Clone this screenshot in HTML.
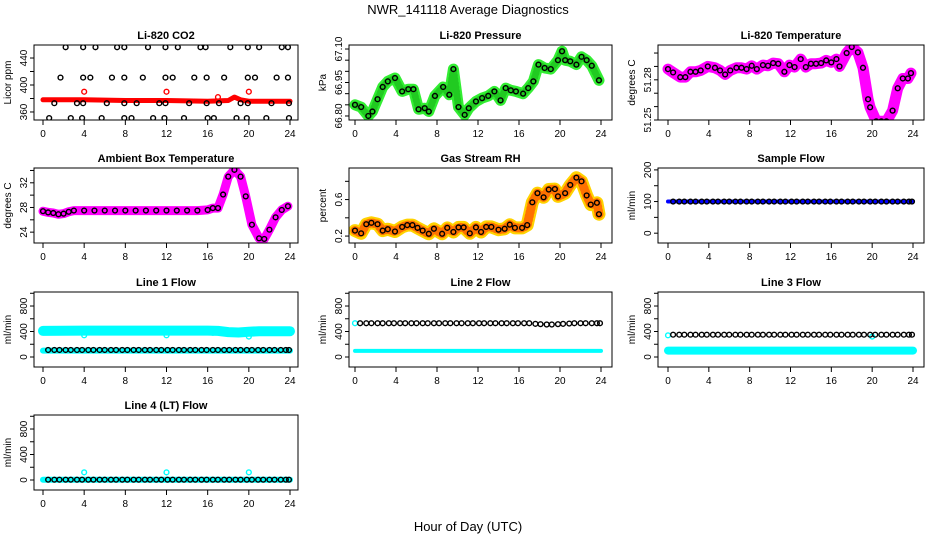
<!DOCTYPE html>
<html><head><meta charset="utf-8"><style>
html,body{margin:0;padding:0;background:#fff;}
svg{display:block;font-family:"Liberation Sans",Arial,sans-serif;}
</style></head><body>
<svg id="chart" width="936" height="540" viewBox="0 0 936 540" xmlns="http://www.w3.org/2000/svg">
<text x="468" y="14" font-size="13" text-anchor="middle">NWR_141118  Average Diagnostics</text>
<text x="468" y="531" font-size="13" text-anchor="middle">Hour of Day (UTC)</text>
</svg>
<script>
// ---- data ----
const xTicks = [0,4,8,12,16,20,24];
// CO2
const co2HiH = [2.2,3.9,5.1,7.2,7.9,10.2,11.9,13.1,15.3,15.8,18.2,19.9,21.0,23.2,23.8];
const co2HiV = [456,456,456,456,456,456,456,456,456,456,456,456,456,456,456];
const co2MidH = [1.7,3.9,4.6,6.7,7.9,9.7,11.9,12.6,14.7,15.9,17.6,19.9,20.6,22.7,23.8];
const co2MidV = [411,411,411,411,411,411,411,411,411,411,411,411,411,411,411];
const co2LowH = [1.1,3.3,3.9,6.2,7.9,9.1,11.3,11.9,14.2,15.9,17.1,19.2,19.9,22.2,23.9];
const co2LowV = [373,373,373,373,373,373,373,373,373,373,373,373,373,373,373];
const co2BotH = [0.6,2.7,3.8,5.7,7.9,8.6,10.7,11.8,13.7,16.0,16.6,18.8,19.8,21.7,23.9];
const co2BotV = [351,351,351,351,351,351,351,351,351,351,351,351,351,351,351];
const co2BandH = [0,4,8,12,16,18,18.6,19.2,20,24];
const co2BandV = [378,378,377,377,376,377,382,378,376,376];
const co2OutH = [4,12,17,20];
const co2OutV = [390,390,382,390];
// Pressure
const presH = [0,0.6,1.3,1.7,2.2,2.7,3.2,3.9,4.6,5.2,5.7,6.2,6.8,7.2,7.8,8.6,9.2,9.6,10.1,10.7,11.1,11.8,12.4,13.0,13.6,14.2,14.7,15.2,15.7,16.4,16.9,17.4,17.9,18.5,19.1,19.8,20.2,20.5,21.0,21.6,22.1,22.6,23.1,23.8];
const presV = [66.85,66.84,66.80,66.82,66.875,66.93,66.955,66.97,66.91,66.92,66.92,66.83,66.835,66.82,66.89,66.93,66.895,67.01,66.84,66.805,66.835,66.865,66.88,66.89,66.91,66.87,66.925,66.915,66.91,66.90,66.925,66.955,67.03,67.015,67.01,67.05,67.09,67.05,67.045,67.03,67.065,67.05,67.025,66.96];
// Li-820 temperature
const ltH = [0,0.5,1.2,1.7,2.2,2.7,3.2,3.9,4.6,5.1,5.6,6.1,6.7,7.2,7.7,8.2,8.7,9.3,9.8,10.3,10.8,11.4,11.9,12.4,13.0,13.5,14.0,14.5,15.0,15.5,16.0,16.5,16.8,17.5,18.0,18.6,19.1,19.6,19.8,20.4,20.9,21.4,22.0,22.5,23.0,23.5,23.8];
const ltV = [51.288,51.2855,51.282,51.282,51.286,51.286,51.287,51.29,51.289,51.287,51.284,51.287,51.289,51.289,51.288,51.2905,51.288,51.291,51.2905,51.2925,51.292,51.286,51.291,51.2895,51.2955,51.2895,51.292,51.292,51.2925,51.2945,51.293,51.2955,51.29,51.30,51.3045,51.3005,51.289,51.2655,51.2595,51.249,51.249,51.249,51.257,51.2737,51.281,51.281,51.285];
// Ambient box temperature
const abH = [0,0.5,1.0,1.5,2.0,2.5,3.0,4,5,6,7,8,9,10,11,12,13,14,15,16,16.5,17,17.5,18.0,18.6,19.2,19.7,20.3,21.0,21.5,22.0,22.6,23.2,23.8];
const abV = [27.4,27.2,27.1,26.9,27.0,27.3,27.5,27.5,27.5,27.5,27.5,27.5,27.5,27.5,27.5,27.5,27.5,27.5,27.5,27.6,27.9,27.9,30.1,33.0,34.1,33.0,29.8,25.2,23.0,22.9,24.4,26.4,27.6,28.2];
// Gas stream RH
const rhH = [0,0.6,1.1,1.6,2.2,2.7,3.2,3.9,4.6,5.1,5.6,6.1,6.6,7.2,7.7,8.5,9.0,9.6,10.1,10.6,11.2,11.8,12.3,12.8,13.3,14.0,14.6,15.1,15.6,16.3,16.8,17.3,17.8,18.4,18.9,19.5,19.8,20.5,21.0,21.6,22.1,22.6,23.0,23.6,23.8];
const rhV = [0.26,0.23,0.33,0.345,0.33,0.26,0.275,0.25,0.30,0.32,0.32,0.29,0.26,0.225,0.28,0.225,0.29,0.245,0.295,0.295,0.23,0.295,0.245,0.30,0.30,0.27,0.28,0.325,0.29,0.29,0.32,0.57,0.67,0.625,0.71,0.715,0.635,0.67,0.76,0.84,0.80,0.645,0.545,0.565,0.44];
// Flow black-circle hours
const flowH = [0.5,1.1,1.6,2.2,2.7,3.3,3.8,4.4,4.9,5.5,6.0,6.6,7.1,7.7,8.2,8.8,9.3,9.9,10.4,11.0,11.5,12.1,12.6,13.2,13.7,14.3,14.8,15.4,15.9,16.5,17.0,17.6,18.1,18.7,19.2,19.8,20.3,20.9,21.4,22.0,22.5,23.1,23.6,23.9];
const sampleV = [100,100,100,100,100,100,100,100,100,100,100,100,100,100,100,100,100,100,100,100,100,100,100,100,100,100,100,100,100,100,100,100,100,100,100,100,100,100,100,100,100,100,100,100];
const line1V = [110,110,110,110,110,110,110,110,110,110,110,110,110,110,110,110,110,110,110,110,110,110,110,110,110,110,110,110,110,110,110,110,110,110,110,110,110,110,110,110,110,110,110,110];
const line2V = [530,530,530,530,530,530,530,530,530,530,530,530,530,530,530,530,530,530,530,530,530,530,530,530,530,530,530,530,530,530,530,520,515,510,510,515,520,525,530,530,530,530,530,530];
const line3V = [350,350,350,350,350,350,350,350,350,350,350,350,350,350,350,350,350,350,350,350,350,350,350,350,350,350,350,350,350,350,350,350,350,350,350,350,350,350,350,350,350,350,350,350];
const line4V = [5,5,5,5,5,5,5,5,5,5,5,5,5,5,5,5,5,5,5,5,5,5,5,5,5,5,5,5,5,5,5,5,5,5,5,5,5,5,5,5,5,5,5,5];
const bandH = [0,4,8,12,16,17,18,19,20,21,24];
const sampleBandV = [100,100,100,100,100,100,100,100,100,100,100];
const line1HiBandV = [410,415,415,415,415,410,390,385,395,405,405];
const line1LoBandV = [100,100,100,100,100,100,100,100,100,100,100];
const line2BandV = [95,95,95,95,95,95,95,95,95,95,95];
const line3BandV = [100,100,100,100,100,100,100,100,100,100,100];
const line4BandV = [5,5,5,5,5,5,5,5,5,5,5];
const line1OutH = [0,4,8.2,12,16.5,20];
const line1OutV = [390,340,390,340,380,320];
const line2OutH = [0];
const line2OutV = [530];
const line3OutH = [0,20];
const line3OutV = [340,320];
const line4OutH = [4,12,20];
const line4OutV = [120,120,120];

// ---- layout ----
const NS = "http://www.w3.org/2000/svg";
const svg = document.getElementById('chart');
const cols = [{L:34,R:298,h0:43,h24:290},{L:349,R:612,h0:355,h24:601},{L:658,R:924,h0:668,h24:913}];
const rows = [45,168,292,415];
const PH = 75;
function el(tag, a){const e=document.createElementNS(NS,tag);for(const k in a)e.setAttribute(k,a[k]);return e;}

function panel(name, c, r, title, ylab, ymin, ymax, yticks, ylabels){
  const col=cols[c], top=rows[r], bot=top+PH;
  const g=el('g',{});
  
  
  svg.appendChild(g);
  const sx=h=>col.h0+(h/24)*(col.h24-col.h0);
  const sy=v=>bot-(v-ymin)/(ymax-ymin)*PH;
  const clipId='clip-'+name;
  const cp=el('clipPath',{id:clipId});cp.appendChild(el('rect',{x:col.L,y:top,width:col.R-col.L,height:PH}));g.appendChild(cp);
  const plot=el('g',{'clip-path':'url(#'+clipId+')'});
  
  
  g.appendChild(plot);
  const box=el('rect',{x:col.L,y:top,width:col.R-col.L,height:PH,fill:'none',stroke:'#000','stroke-width':1});
  
  
  g.appendChild(box);
  const t=el('text',{x:(col.L+col.R)/2,y:top-6,'font-size':11,'font-weight':'bold','text-anchor':'middle'});t.textContent=title;
  
  
  g.appendChild(t);
  xTicks.forEach(h=>{
    const tk=el('line',{x1:sx(h),x2:sx(h),y1:bot,y2:bot+5,stroke:'#000'});
    
    
    g.appendChild(tk);
    const tl=el('text',{x:sx(h),y:bot+17,'font-size':10,'text-anchor':'middle'});tl.textContent=h;
    
    
    g.appendChild(tl);
  });
  yticks.forEach(v=>{
    const tk=el('line',{x1:col.L-4,x2:col.L,y1:sy(v),y2:sy(v),stroke:'#000'});
    
    
    g.appendChild(tk);
  });
  ylabels.forEach(v=>{
    const x=col.L-7,y=sy(v);
    const tl=el('text',{x:x,y:y,'font-size':10,'text-anchor':'middle',transform:'rotate(-90 '+x+' '+y+')'});tl.textContent=v;
    
    
    g.appendChild(tl);
  });
  const yx=col.L-23,yy=(top+bot)/2;
  const yt=el('text',{x:yx,y:yy,'font-size':10,'text-anchor':'middle',transform:'rotate(-90 '+yx+' '+yy+')'});yt.textContent=ylab;
  
  
  g.appendChild(yt);
  return {plot,sx,sy,name};
}
function band(p, H, V, color, w, dash, op){
  const d=H.map((h,i)=>(i?'L':'M')+p.sx(h).toFixed(1)+','+p.sy(V[i]).toFixed(1)).join(' ');
  const a={d:d,fill:'none',stroke:color,'stroke-width':w,'stroke-linejoin':'round','stroke-linecap':'round'};
  const e=el('path',a);
  
  
  p.plot.appendChild(e);
  if(dash){
    const e2=el('path',{d:d,fill:'none',stroke:dash,'stroke-width':w-4,'stroke-dasharray':'1 3','stroke-linejoin':'round','stroke-linecap':'round',opacity:op||0.4});
    
    
    p.plot.appendChild(e2);
  }
}
function pts(p, H, V, color, r, sw){
  H.forEach((h,i)=>{
    const c=el('circle',{cx:p.sx(h),cy:p.sy(V[i]),r:r||2.4,fill:'none',stroke:color,'stroke-width':sw||1.4});
    
    
    p.plot.appendChild(c);
  });
}

// CO2
let p=panel('co2',0,0,'Li-820 CO2','Licor ppm',348.1,459.3,[360,380,400,420,440],[360,400,440]);
band(p,co2BandH,co2BandV,'#ff0000',5);
pts(p,co2OutH,co2OutV,'#ff0000');
pts(p,co2HiH,co2HiV,'#000');pts(p,co2MidH,co2MidV,'#000');pts(p,co2LowH,co2LowV,'#000');pts(p,co2BotH,co2BotV,'#000');
// Pressure
p=panel('pressure',1,0,'Li-820 Pressure','kPa',66.782,67.118,[66.80,66.85,66.90,66.95,67.00,67.05,67.10],['66.80','66.95','67.10']);
band(p,presH,presV,'#33ee33',11,'#008800',0.35);
pts(p,presH,presV,'#000');
// Li-820 Temp
p=panel('li820-temp',2,0,'Li-820 Temperature','degrees C',51.25,51.306,[51.25,51.26,51.27,51.28,51.29,51.30],['51.25','51.28']);
band(p,ltH,ltV,'#ff00ff',11);
pts(p,ltH,ltV,'#000');
// Ambient
p=panel('ambient-temp',0,1,'Ambient Box Temperature','degrees C',22.24,34.4,[24,26,28,30,32,34],[24,28,32]);
band(p,abH,abV,'#ff00ff',9);
pts(p,abH,abV,'#000');
// RH
p=panel('gas-rh',1,1,'Gas Stream RH','percent',0.124,0.946,[0.2,0.4,0.6,0.8],['0.2','0.6']);
band(p,rhH,rhV,'#ffd200',13,'#ff2000',0.55);
pts(p,rhH,rhV,'#000');
// Sample flow
p=panel('sample-flow',2,1,'Sample Flow','ml/min',-31,206,[0,50,100,150,200],[0,100,200]);
band(p,bandH,sampleBandV,'#0000ff',4);
pts(p,flowH,sampleV,'#000');
// Line flows
const fmin=-157,fmax=1020,fT=[0,200,400,600,800,1000],fL=[0,400,800];
p=panel('line1-flow',0,2,'Line 1 Flow','ml/min',fmin,fmax,fT,fL);
band(p,bandH,line1HiBandV,'#00ffff',10);
band(p,bandH,line1LoBandV,'#00ffff',6);
pts(p,line1OutH,line1OutV,'#00ffff');
pts(p,flowH,line1V,'#000');
p=panel('line2-flow',1,2,'Line 2 Flow','ml/min',fmin,fmax,fT,fL);
band(p,bandH,line2BandV,'#00ffff',4);
pts(p,line2OutH,line2OutV,'#00ffff');
pts(p,flowH,line2V,'#000');
p=panel('line3-flow',2,2,'Line 3 Flow','ml/min',fmin,fmax,fT,fL);
band(p,bandH,line3BandV,'#00ffff',8);
pts(p,line3OutH,line3OutV,'#00ffff');
pts(p,flowH,line3V,'#000');
p=panel('line4-flow',0,3,'Line 4 (LT) Flow','ml/min',fmin,fmax,fT,fL);
band(p,bandH,line4BandV,'#00ffff',6);
pts(p,line4OutH,line4OutV,'#00ffff');
pts(p,flowH,line4V,'#000');
</script>
</body></html>
